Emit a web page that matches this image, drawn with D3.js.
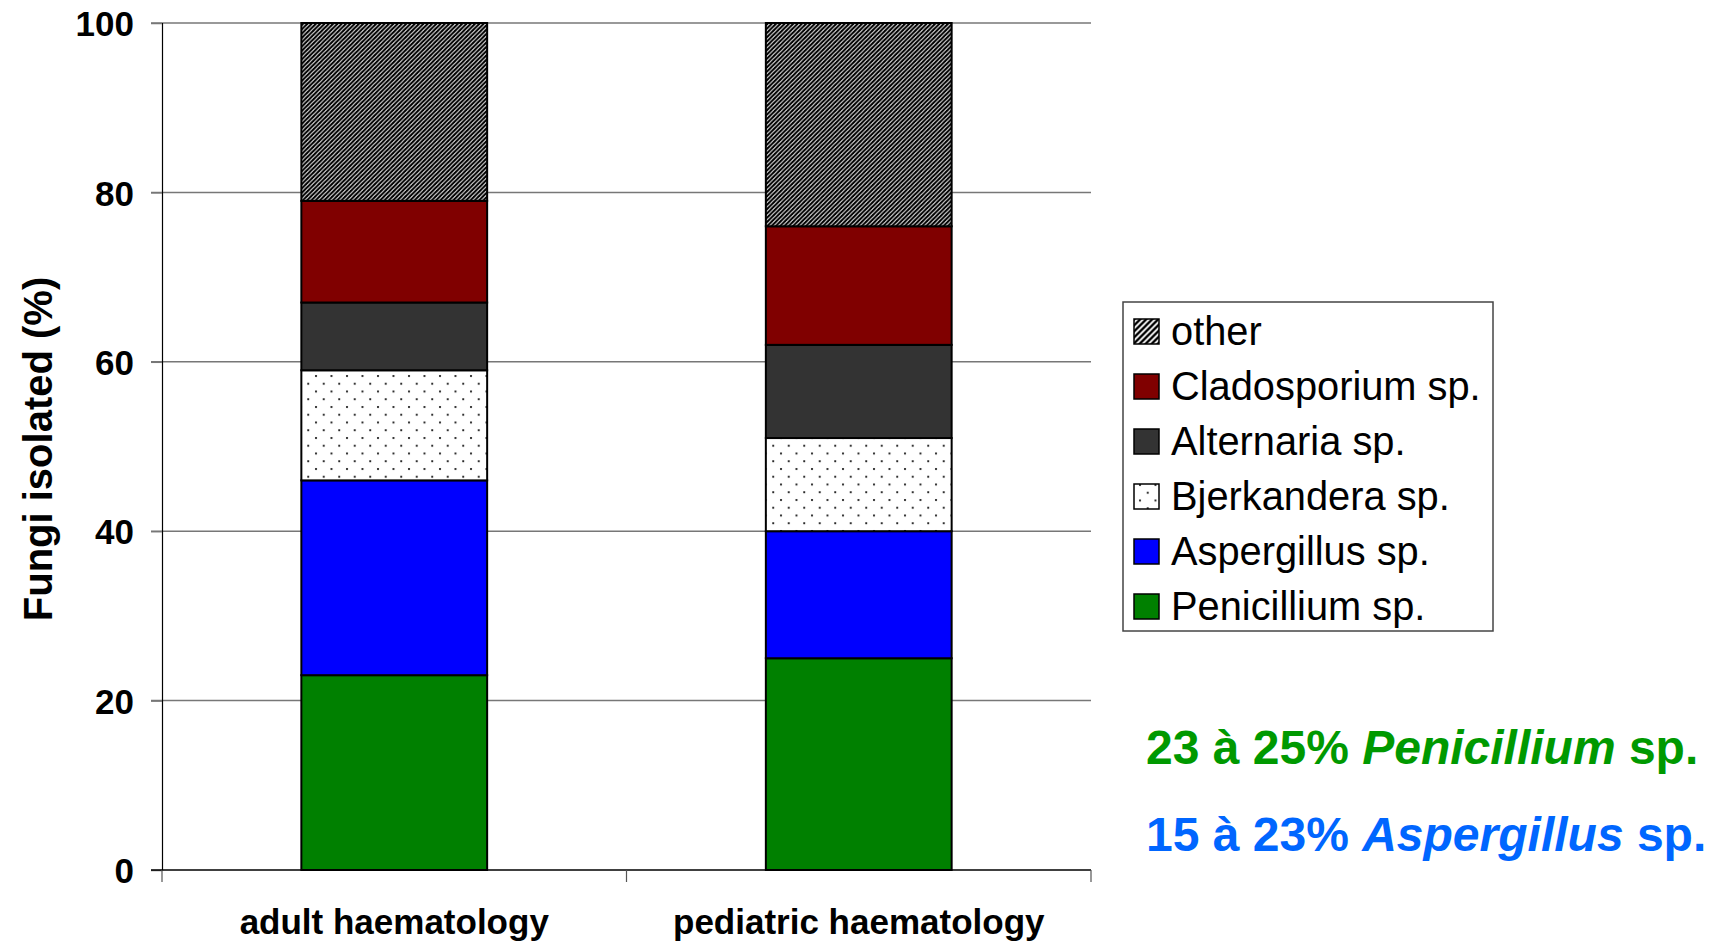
<!DOCTYPE html>
<html>
<head>
<meta charset="utf-8">
<script src="https://cdn.jsdelivr.net/npm/d3@7"></script>
<style>
  body { margin: 0; background: #fff; }
  svg text { font-family: "Liberation Sans", Arial, sans-serif; }
</style>
</head>
<body>
<div id="chart"></div>
<script>
const categories = ["adult haematology", "pediatric haematology"];
const seriesNames = ["Penicillium sp.", "Aspergillus sp.", "Bjerkandera sp.", "Alternaria sp.", "Cladosporium sp.", "other"];

const penicillium = [23, 25];
const aspergillus = [23, 15];
const bjerkandera = [13, 11];
const alternaria = [8, 11];
const cladosporium = [12, 14];
const other = [21, 24];

const yTicks = [0, 20, 40, 60, 80, 100];

const notes = [
  { pre: "23 à 25% ", genus: "Penicillium", post: " sp.", color: "#009900" },
  { pre: "15 à 23% ", genus: "Aspergillus", post: " sp.", color: "#0066ff" }
];

const width = 1720, height = 942;
const margin = { top: 23, right: 629, bottom: 72, left: 162 };

const svg = d3.select("#chart").append("svg")
  .attr("width", width)
  .attr("height", height);

// patterns for "other" (hatch) and Bjerkandera (dots)
const defs = svg.append("defs");

const hatch = defs.append("pattern")
  .attr("id", "hatch")
  .attr("patternUnits", "userSpaceOnUse")
  .attr("width", 4.3).attr("height", 4.3);
hatch.append("rect").attr("width", 4.3).attr("height", 4.3).attr("fill", "#fff");
hatch.append("path")
  .attr("d", "M-1,1 L1,-1 M0,4.3 L4.3,0 M3.3,5.3 L5.3,3.3")
  .attr("stroke", "#000").attr("stroke-width", 2.1);

const hatchWide = defs.append("pattern")
  .attr("id", "hatch-wide")
  .attr("patternUnits", "userSpaceOnUse")
  .attr("width", 6).attr("height", 6);
hatchWide.append("rect").attr("width", 6).attr("height", 6).attr("fill", "#fff");
hatchWide.append("path")
  .attr("d", "M-1.5,1.5 L1.5,-1.5 M0,6 L6,0 M4.5,7.5 L7.5,4.5")
  .attr("stroke", "#000").attr("stroke-width", 2.4);

const dots = defs.append("pattern")
  .attr("id", "dots")
  .attr("patternUnits", "userSpaceOnUse")
  .attr("width", 15.5).attr("height", 15.5)
  .attr("x", 4).attr("y", 2);
dots.append("rect").attr("width", 15.5).attr("height", 15.5).attr("fill", "#fff");
dots.append("circle").attr("cx", 2).attr("cy", 2).attr("r", 1.1).attr("fill", "#111");
dots.append("circle").attr("cx", 9.75).attr("cy", 9.75).attr("r", 1.1).attr("fill", "#111");

const fills = {
  "Penicillium sp.": "#008000",
  "Aspergillus sp.": "#0000ff",
  "Bjerkandera sp.": "url(#dots)",
  "Alternaria sp.": "#333333",
  "Cladosporium sp.": "#800000",
  "other": "url(#hatch)"
};

const legendFills = Object.assign({}, fills, { "other": "url(#hatch-wide)" });

// table for the stack
const columns = [penicillium, aspergillus, bjerkandera, alternaria, cladosporium, other];
const table = categories.map((c, i) => {
  const row = { category: c };
  seriesNames.forEach((s, k) => { row[s] = columns[k][i]; });
  return row;
});

const stacked = d3.stack().keys(seriesNames)(table);

const x = d3.scaleBand()
  .domain(categories)
  .range([margin.left, width - margin.right])
  .paddingInner(0.6)
  .paddingOuter(0.3);

const xEdges = d3.scaleBand()
  .domain(categories)
  .range([margin.left, width - margin.right]);

const y = d3.scaleLinear()
  .domain([0, 100])
  .range([height - margin.bottom, margin.top]);

// gridlines
svg.append("g")
  .selectAll("line")
  .data(yTicks.filter(t => t > 0))
  .enter().append("line")
  .attr("x1", margin.left - 11)
  .attr("x2", width - margin.right)
  .attr("y1", d => y(d))
  .attr("y2", d => y(d))
  .attr("stroke", "#777")
  .attr("stroke-width", 1.5);

// bars
svg.append("g")
  .selectAll("g")
  .data(stacked)
  .enter().append("g")
  .attr("fill", d => fills[d.key])
  .selectAll("rect")
  .data(d => d)
  .enter().append("rect")
  .attr("x", d => x(d.data.category))
  .attr("width", x.bandwidth())
  .attr("y", d => y(d[1]))
  .attr("height", d => y(d[0]) - y(d[1]))
  .attr("stroke", "#000")
  .attr("stroke-width", 2);

// y axis
const yAxis = svg.append("g")
  .attr("transform", `translate(${margin.left},0)`)
  .call(d3.axisLeft(y).tickValues(yTicks).tickSize(11).tickPadding(17));
yAxis.select(".domain").attr("stroke", "#000").attr("stroke-width", 1.2);
yAxis.selectAll(".tick line").attr("stroke", "#777").attr("stroke-width", 1.5);
yAxis.selectAll(".tick text")
  .attr("fill", "#000")
  .style("font-size", "35px")
  .style("font-weight", "bold")
  .attr("dy", "0.36em")
  .attr("x", -28);

// x axis line + ticks on band edges
const xAxisG = svg.append("g");
xAxisG.append("line")
  .attr("x1", margin.left - 11)
  .attr("x2", width - margin.right)
  .attr("y1", y(0)).attr("y2", y(0))
  .attr("stroke", "#000").attr("stroke-width", 1.5);

const edges = categories.map(c => xEdges(c)).concat([xEdges(categories[categories.length - 1]) + xEdges.bandwidth()]);
xAxisG.selectAll(".xtick")
  .data(edges)
  .enter().append("line")
  .attr("class", "xtick")
  .attr("x1", d => d).attr("x2", d => d)
  .attr("y1", y(0)).attr("y2", y(0) + 12)
  .attr("stroke", "#555").attr("stroke-width", 1.2);

xAxisG.selectAll(".xlabel")
  .data(categories)
  .enter().append("text")
  .attr("class", "xlabel")
  .attr("x", d => x(d) + x.bandwidth() / 2)
  .attr("y", 934)
  .attr("text-anchor", "middle")
  .style("font-size", "35px")
  .style("font-weight", "bold")
  .text(d => d);

// y axis title
svg.append("text")
  .attr("transform", "translate(52,449) rotate(-90)")
  .attr("text-anchor", "middle")
  .style("font-size", "40px")
  .style("font-weight", "bold")
  .text("Fungi isolated (%)");

// legend (top entry is "other")
const legend = svg.append("g");
legend.append("rect")
  .attr("x", 1123).attr("y", 302)
  .attr("width", 370).attr("height", 329)
  .attr("fill", "#fff")
  .attr("stroke", "#444").attr("stroke-width", 1.5);

const legendItems = seriesNames.slice().reverse();
const item = legend.selectAll(".item")
  .data(legendItems)
  .enter().append("g")
  .attr("class", "item")
  .attr("transform", (d, i) => `translate(1134,${331.5 + i * 55})`);

item.append("rect")
  .attr("x", 0).attr("y", -12.5)
  .attr("width", 25).attr("height", 25)
  .attr("fill", d => legendFills[d])
  .attr("stroke", "#000").attr("stroke-width", 1.5);

item.append("text")
  .attr("x", 37).attr("y", 13.5)
  .style("font-size", "39.8px")
  .text(d => d);

// annotation lines
const noteText = svg.selectAll(".note")
  .data(notes)
  .enter().append("text")
  .attr("class", "note")
  .attr("x", 1146)
  .attr("y", (d, i) => 764 + i * 87)
  .attr("fill", d => d.color)
  .style("font-size", "48px")
  .style("font-weight", "bold");
noteText.append("tspan").text(d => d.pre);
noteText.append("tspan").style("font-style", "italic").text(d => d.genus);
noteText.append("tspan").text(d => d.post);
</script>
</body>
</html>
